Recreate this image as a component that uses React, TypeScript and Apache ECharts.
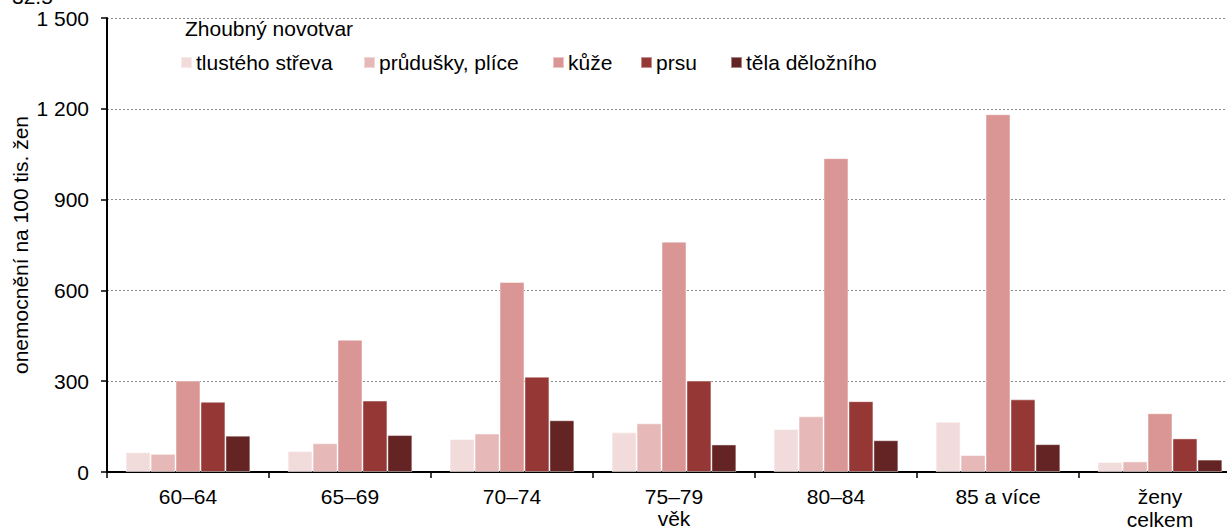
import React, { useEffect, useRef } from "react";
import * as echarts from "echarts";

const categories = ["60–64", "65–69", "70–74", "75–79", "80–84", "85 a více", "ženy\ncelkem"];
const seriesNames = ["tlustého střeva", "průdušky, plíce", "kůže", "prsu", "těla děložního"];
const colonValues = [65, 69, 109, 131, 142, 166, 33];
const lungValues = [60, 95, 127, 161, 184, 56, 35];
const skinValues = [302, 437, 628, 761, 1037, 1182, 194];
const breastValues = [232, 236, 315, 302, 234, 240, 111];
const uterusValues = [120, 122, 171, 91, 105, 92, 41];
const seriesColors = ["#F2DCDB", "#E6B9B8", "#D99694", "#953735", "#632423"];
const legendLefts = [180, 363, 552, 640, 730];
const yTicks = { min: 0, max: 1500, interval: 300 };

const FONT = "'Liberation Sans', Arial, sans-serif";
const FS = 21;

export default function App() {
  const ref = useRef<HTMLDivElement>(null);
  useEffect(() => {
    if (!ref.current) return;
    const chart = echarts.init(ref.current, null, { renderer: "svg" });
    const allValues = [colonValues, lungValues, skinValues, breastValues, uterusValues];
    chart.setOption({
      animation: false,
      textStyle: { fontFamily: FONT },
      grid: { left: 107, right: 19, top: 18, bottom: 59, outerBoundsMode: "none", containLabel: false },
      legend: seriesNames.map((n, i) => ({
        data: [n],
        left: legendLefts[i],
        top: 52,
        padding: 0,
        itemWidth: 11,
        itemHeight: 11,
        icon: "rect",
        textStyle: { fontSize: FS, color: "#000", fontFamily: FONT, padding: [0, 0, 0, -1] },
      })),
      graphic: [
        {
          type: "text",
          left: 185,
          top: 18,
          style: { text: "Zhoubný novotvar", fontSize: FS, fill: "#000", fontFamily: FONT },
        },
        {
          type: "text",
          x: 12,
          y: 7,
          style: { text: "32.5", fontSize: FS, fill: "#000", fontFamily: FONT, verticalAlign: "bottom" },
        },
      ],
      xAxis: {
        type: "category",
        data: categories,
        name: "věk",
        nameLocation: "middle",
        nameGap: 36,
        nameMoveOverlap: false,
        nameTextStyle: { fontSize: FS, color: "#000", fontFamily: FONT },
        axisLine: { lineStyle: { color: "#000", width: 2 } },
        axisTick: { show: true, length: 6, lineStyle: { color: "#000", width: 1.5 } },
        axisLabel: { fontSize: FS, color: "#000", margin: 13, lineHeight: 23, fontFamily: FONT },
      },
      yAxis: {
        type: "value",
        min: yTicks.min,
        max: yTicks.max,
        interval: yTicks.interval,
        name: "onemocnění na 100 tis. žen",
        nameLocation: "middle",
        nameRotate: 90,
        nameGap: 76,
        nameMoveOverlap: false,
        nameTextStyle: { fontSize: FS, color: "#000", fontFamily: FONT },
        axisLine: { show: true, lineStyle: { color: "#000", width: 2 } },
        axisTick: { show: true, length: 6, lineStyle: { color: "#000", width: 1.5 } },
        axisLabel: {
          fontSize: FS,
          color: "#000",
          margin: 18,
          fontFamily: FONT,
          formatter: (v: number) => String(v).replace(/\B(?=(\d{3})+(?!\d))/g, " "),
        },
        splitLine: { lineStyle: { color: "#8a8a8a", type: [2, 2], width: 1 } },
      },
      series: seriesNames.map((n, i) => ({
        name: n,
        type: "bar",
        data: allValues[i],
        barGap: "0%",
        barCategoryGap: "23%",
        itemStyle: {
          color: seriesColors[i],
          borderColor: "rgba(255,255,255,0.45)",
          borderWidth: 1,
        },
      })),
    });
    return () => chart.dispose();
  }, []);
  return (
    <div style={{ position: "fixed", left: 0, top: 0, width: 1227, height: 531, overflow: "hidden", background: "#fff" }}>
      <div ref={ref} style={{ width: 1260, height: 531 }} />
    </div>
  );
}
